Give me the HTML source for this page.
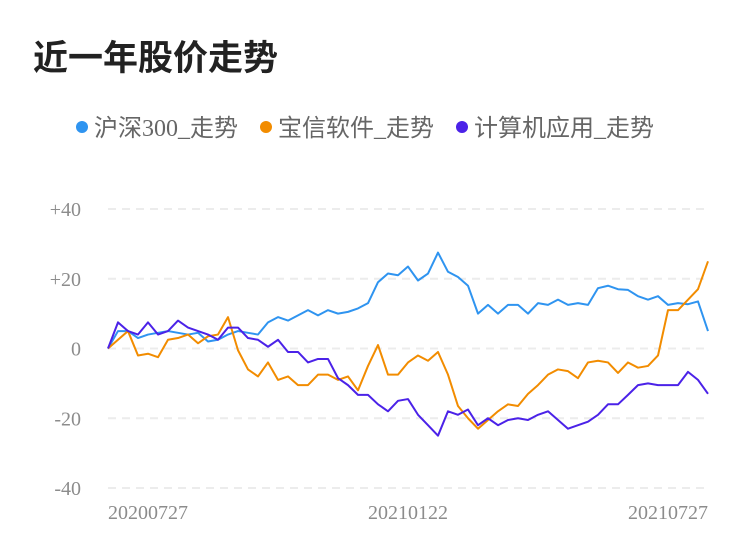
<!DOCTYPE html>
<html><head><meta charset="utf-8"><style>
body{margin:0;background:#fff;}
#wrap{position:relative;width:750px;height:558px;overflow:hidden;font-family:"Liberation Sans","Noto Sans CJK SC",sans-serif;}
#title{position:absolute;left:33px;top:30px;font-size:35px;font-weight:bold;color:#222;}
.leg{position:absolute;top:108px;font-size:24px;color:#666;font-family:"Liberation Serif","Noto Sans CJK SC",serif;white-space:nowrap;}
.dot{display:inline-block;width:12px;height:12px;border-radius:6px;margin-right:6px;vertical-align:3px;}
</style></head><body>
<div id="wrap">
<div id="title">近一年股价走势</div>
<div class="leg" style="left:76px"><span class="dot" style="background:#2f94f0"></span>沪深300_走势</div>
<div class="leg" style="left:260px"><span class="dot" style="background:#f28c00"></span>宝信软件_走势</div>
<div class="leg" style="left:456px"><span class="dot" style="background:#4b22e8"></span>计算机应用_走势</div>
<svg id="svg" width="750" height="558" style="position:absolute;left:0;top:0"></svg>
</div>
<script>
const yTicks=[40,20,0,-20,-40];
const yTickLabels=["+40","+20","0","-20","-40"];
const xLabels=["20200727","20210122","20210727"];
const hs300=[0,5,5,3,4,4.5,5,4.5,4,4.5,2,2.5,4,5,4.5,4,7.5,9,8,9.5,11,9.5,11,10,10.5,11.5,13,19,21.5,21,23.5,19.5,21.5,27.5,22,20.5,18,10,12.5,10,12.5,12.5,10,13,12.5,14,12.5,13,12.5,17.3,18,17,16.8,15,14,15,12.5,13,12.7,13.5,5];
const baoxin=[0,2.5,5,-2,-1.5,-2.5,2.5,3,4,1.5,3.5,4,9,-0.5,-6,-8,-4,-9,-8,-10.5,-10.5,-7.5,-7.5,-9,-8,-12,-5,1,-7.5,-7.5,-4,-2,-3.5,-1,-7.5,-16.5,-20,-23,-20.5,-18,-16,-16.5,-13,-10.5,-7.5,-6,-6.5,-8.5,-4,-3.5,-4,-7,-4,-5.5,-5,-2,11,11,14,17,25];
const computer=[0,7.5,5,4,7.5,4,5,8,6,5,4,2.5,6,6,3,2.5,0.5,2.5,-1,-1,-4,-3,-3,-8.5,-10.5,-13.3,-13.3,-16,-18,-15,-14.5,-19,-22,-25,-18,-19,-17.5,-22,-20,-22,-20.5,-20,-20.5,-19,-18,-20.5,-23,-22,-21,-19,-16,-16,-13.3,-10.5,-10,-10.5,-10.5,-10.5,-6.7,-9,-13];
const X0=108,X1=708,Y0=348.5,K=(488-209)/80;
const yS=v=>Y0-v*K;
const xS=(i,n)=>X0+(X1-X0)*i/(n-1);
const svg=document.getElementById('svg');
const NS="http://www.w3.org/2000/svg";
function mk(t,a){const e=document.createElementNS(NS,t);for(const k in a)e.setAttribute(k,a[k]);svg.appendChild(e);return e;}
yTicks.forEach((v,i)=>{
 const l=mk('line',{x1:X0,x2:X1,y1:yS(v),y2:yS(v),stroke:'#ececec','stroke-width':2,'stroke-dasharray':'8,6'});
 
 
 const t=mk('text',{x:81,y:yS(v)+7,'text-anchor':'end','font-size':20,fill:'#8c8c8c','font-family':'Liberation Serif,serif'});
 t.textContent=yTickLabels[i];
 
 
});
xLabels.forEach((s,i)=>{
 const t=mk('text',{x:X0+(X1-X0)*i/(xLabels.length-1),y:519,'text-anchor':i==0?'start':(i==xLabels.length-1?'end':'middle'),'font-size':20,fill:'#8c8c8c','font-family':'Liberation Serif,serif'});
 t.textContent=s;
 
 
});
[[hs300,'#2f94f0','line-hs300'],[baoxin,'#f28c00','line-baoxin'],[computer,'#4b22e8','line-computer']].forEach(([d,c,n])=>{
 const p=mk('polyline',{points:d.map((v,i)=>xS(i,d.length)+','+yS(v)).join(' '),fill:'none',stroke:c,'stroke-width':2,'stroke-linejoin':'round'});
 
 
});
</script>
</body></html>
